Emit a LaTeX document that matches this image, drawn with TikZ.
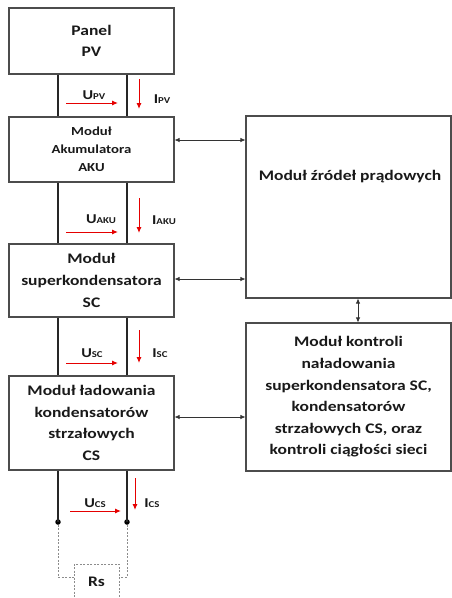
\documentclass[tikz,border=0pt]{standalone}
\usepackage{fontspec}
\setmainfont{Carlito}[FakeStretch=1.2]
\usetikzlibrary{arrows.meta}
\newcommand\subs[1]{{\fontsize{9}{9}\selectfont #1}}
\begin{document}
\begin{tikzpicture}[x=1pt,y=-1pt,
  box/.style={draw=black!70,line width=1.1pt,rectangle,align=center,inner sep=2pt,
    font=\bfseries\fontsize{14.6}{21.6}\selectfont,text=black!90},
  wire/.style={line width=1.6pt,black!85},
  biarrow/.style={line width=0.7pt,black!80,{Latex[length=5pt,width=4.5pt]}-{Latex[length=5pt,width=4.5pt]}},
  redarrow/.style={line width=1pt,red!90!black,-{Latex[length=6pt,width=5pt]}},
  lab/.style={font=\bfseries\fontsize{13.5}{13.5}\selectfont,text=black!90,inner sep=0pt},
  dotted wire/.style={line width=0.9pt,black!45,dash pattern=on 2pt off 1.5pt},
  jdot/.style={circle,fill=black,inner sep=0pt,minimum size=5.5pt}]
\useasboundingbox (0,0) rectangle (452,598);
% boxes
\node[box,minimum width=165,minimum height=66] (pv) at (91.5,41) {Panel\\PV};
\node[box,minimum width=165,minimum height=65,font=\bfseries\fontsize{12.3}{18}\selectfont] (aku) at (91.5,149.5) {Moduł\\Akumulatora\\AKU};
\node[box,minimum width=165,minimum height=73] (sc) at (91.5,280.5) {Moduł\\superkondensatora\\SC};
\node[box,minimum width=165,minimum height=94] (cs) at (91.5,423) {Moduł ładowania\\kondensatorów\\strzałowych\\CS};
\node[box,minimum width=205,minimum height=182] (zr) at (348.5,207) {};
\node[box,draw=none] (zrt) at (350,177) {Moduł źródeł prądowych};
\node[box,minimum width=205,minimum height=148] (kt) at (348.5,397) {Moduł kontroli\\naładowania\\superkondensatora SC,\\kondensatorów\\strzałowych CS, oraz\\kontroli ciągłości sieci};
\node[box,draw=black!45,dash pattern=on 2pt off 1.5pt,line width=0.9pt,minimum width=45,minimum height=40] (rs) at (96.5,584) {};
\node[box,draw=none] (rst) at (96.5,582) {Rs};
% wire x positions
\coordinate (w1) at (58,0);
\coordinate (w2) at (127,0);
\draw[wire] (pv.south -| w1) -- (aku.north -| w1);
\draw[wire] (pv.south -| w2) -- (aku.north -| w2);
\draw[wire] (aku.south -| w1) -- (sc.north -| w1);
\draw[wire] (aku.south -| w2) -- (sc.north -| w2);
\draw[wire] (sc.south -| w1) -- (cs.north -| w1);
\draw[wire] (sc.south -| w2) -- (cs.north -| w2);
\node[jdot] (d1) at (58,522) {};
\node[jdot] (d2) at (127,522) {};
\draw[wire] (cs.south -| w1) -- (d1.center);
\draw[wire] (cs.south -| w2) -- (d2.center);
\coordinate (c1) at (58,577);
\coordinate (c2) at (127,577);
\draw[dotted wire] (d1) -- (c1) -- (c1 -| rs.west);
\draw[dotted wire] (d2) -- (c2) -- (c2 -| rs.east);
% bidirectional arrows
\draw[biarrow] (aku.east |- 0,140) -- (zr.west |- 0,140);
\draw[biarrow] (sc.east |- 0,279) -- (zr.west |- 0,279);
\draw[biarrow] (cs.east |- 0,417) -- (kt.west |- 0,417);
\draw[biarrow] (zr.south -| 358,0) -- (kt.north -| 358,0);
% red arrows and labels
\coordinate (u1a) at (66,103); \coordinate (u1b) at (118,103);
\coordinate (i1a) at (139,79); \coordinate (i1b) at (139,109);
\draw[redarrow] (u1a) -- (u1b);
\draw[redarrow] (i1a) -- (i1b);
\node[lab] (lu1) at (94,95) {U\subs{PV}};
\node[lab] (li1) at (162,99) {I\subs{PV}};
\coordinate (u2a) at (66,232); \coordinate (u2b) at (118,232);
\coordinate (i2a) at (139,198); \coordinate (i2b) at (139,233);
\draw[redarrow] (u2a) -- (u2b);
\draw[redarrow] (i2a) -- (i2b);
\node[lab] (lu2) at (101,219) {U\subs{AKU}};
\node[lab] (li2) at (164,220) {I\subs{AKU}};
\coordinate (u3a) at (66,363); \coordinate (u3b) at (118,363);
\coordinate (i3a) at (139,330); \coordinate (i3b) at (139,363);
\draw[redarrow] (u3a) -- (u3b);
\draw[redarrow] (i3a) -- (i3b);
\node[lab] (lu3) at (92,353) {U\subs{SC}};
\node[lab] (li3) at (160,353) {I\subs{SC}};
\coordinate (u4a) at (70,511); \coordinate (u4b) at (121,511);
\coordinate (i4a) at (135,478); \coordinate (i4b) at (135,510);
\draw[redarrow] (u4a) -- (u4b);
\draw[redarrow] (i4a) -- (i4b);
\node[lab] (lu4) at (95,503) {U\subs{CS}};
\node[lab] (li4) at (152,503) {I\subs{CS}};
\end{tikzpicture}
\end{document}
